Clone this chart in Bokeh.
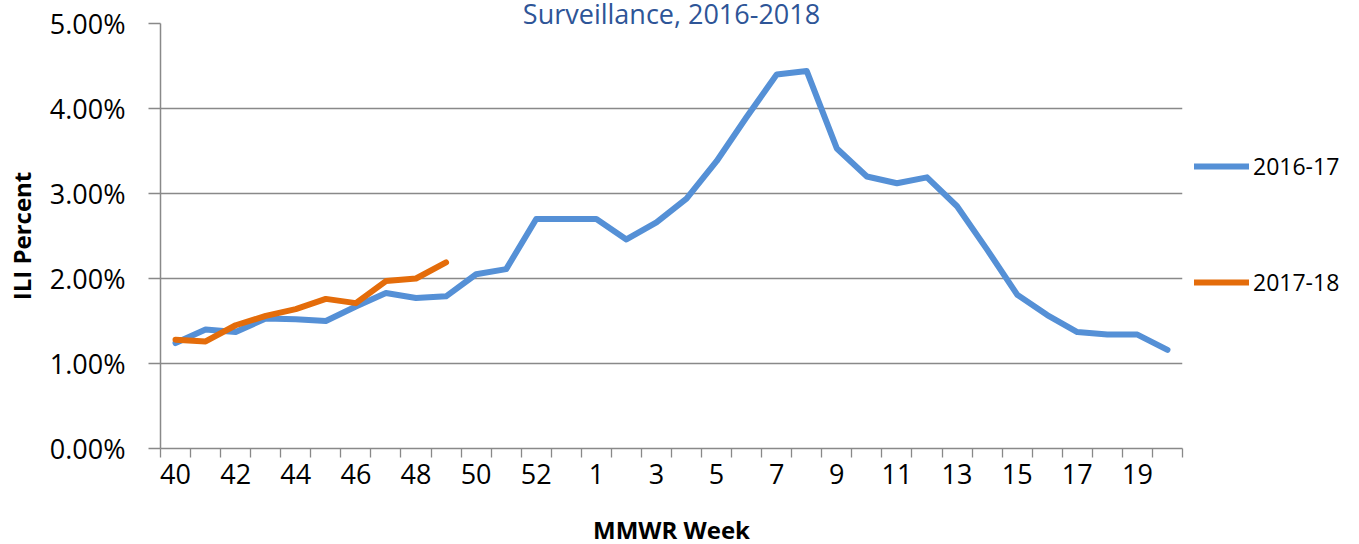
from bokeh.plotting import figure
from bokeh.models import (Range1d, FixedTicker, PrintfTickFormatter, Legend,
                          LegendItem, Title)
from bokeh.embed import file_html
from bokeh.resources import INLINE

weeks = [str(w) for w in range(40, 54)] + [str(w) for w in range(1, 21)]

season_2016_17 = [1.24, 1.40, 1.37, 1.53, 1.52, 1.50, 1.67, 1.83, 1.77, 1.79,
                  2.05, 2.11, 2.70, None, 2.70, 2.46, 2.66, 2.94, 3.38, 3.90,
                  4.40, 4.44, 3.53, 3.20, 3.12, 3.19, 2.85, 2.34, 1.81, 1.57,
                  1.37, 1.34, 1.34, 1.16]
season_2017_18 = [1.28, 1.26, 1.45, 1.56, 1.64, 1.76, 1.71, 1.97, 2.00, 2.19]

series_names = ["2016-17", "2017-18"]
colors = ["#5590D6", "#E46C0A"]
y_ticks = [0, 1, 2, 3, 4, 5]
title_text = "Surveillance, 2016-2018"

FONT = "Open Sans"
GRAY = "#898989"

p = figure(frame_width=1022, frame_height=425, output_backend="svg", toolbar_location=None,
           x_range=Range1d(0, len(weeks)), y_range=Range1d(0, 5),
           min_border_left=160, min_border_right=177,
           min_border_top=22, min_border_bottom=97)
p.outline_line_color = None
p.xgrid.visible = False
p.ygrid.grid_line_color = GRAY
p.ygrid.grid_line_width = 1.5

# x axis: labels at category centres, ticks at category boundaries
centres = [i + 0.5 for i in range(0, len(weeks), 2)]
p.xaxis.ticker = FixedTicker(ticks=centres, minor_ticks=list(range(len(weeks) + 1)))
p.xaxis.major_label_overrides = {c: weeks[int(c - 0.5)] for c in centres}
p.xaxis.major_tick_out = 0
p.xaxis.major_tick_in = 0
p.xaxis.minor_tick_out = 9
p.xaxis.minor_tick_in = 0
p.xaxis.minor_tick_line_color = GRAY
p.xaxis.minor_tick_line_width = 1.3
p.xaxis.axis_line_color = GRAY
p.xaxis.axis_line_width = 1.5
p.xaxis.major_label_text_font = FONT
p.xaxis.major_label_text_font_size = "27px"
p.xaxis.major_label_text_color = "#000000"
p.xaxis.major_label_standoff = 6
p.xaxis.axis_label = "MMWR Week"
p.xaxis.axis_label_text_font = FONT
p.xaxis.axis_label_text_font_style = "bold"
p.xaxis.axis_label_text_font_size = "24px"
p.xaxis.axis_label_text_color = "#000000"
p.xaxis.axis_label_standoff = 26

# y axis
p.yaxis.ticker = FixedTicker(ticks=y_ticks)
p.yaxis.formatter = PrintfTickFormatter(format="%.2f%%")
p.yaxis.major_tick_out = 12
p.yaxis.major_tick_in = 0
p.yaxis.minor_tick_line_color = None
p.yaxis.major_tick_line_color = GRAY
p.yaxis.major_tick_line_width = 1.3
p.yaxis.axis_line_color = GRAY
p.yaxis.axis_line_width = 1.5
p.yaxis.major_label_text_font = FONT
p.yaxis.major_label_text_font_size = "27px"
p.yaxis.major_label_text_color = "#000000"
p.yaxis.major_label_standoff = 23
p.yaxis.axis_label = "ILI Percent"
p.yaxis.axis_label_text_font = FONT
p.yaxis.axis_label_text_font_style = "bold"
p.yaxis.axis_label_text_font_size = "24px"
p.yaxis.axis_label_text_color = "#000000"
p.yaxis.axis_label_standoff = 9

renderers = []
for name, vals, col in zip(series_names, [season_2016_17, season_2017_18], colors):
    xs = [i + 0.5 for i, v in enumerate(vals) if v is not None]
    ys = [v for v in vals if v is not None]
    r = p.line(xs, ys, line_color=col, line_width=6,
               line_join="round", line_cap="round")
    renderers.append(r)

legend = Legend(items=[LegendItem(label=n, renderers=[r]) for n, r in zip(series_names, renderers)],
                location=(12, 150), orientation="vertical")
legend.background_fill_alpha = 0
legend.border_line_color = None
legend.padding = 0
legend.margin = 0
legend.spacing = 84
legend.glyph_width = 55
legend.glyph_height = 28
legend.label_standoff = 4
legend.label_text_font = FONT
legend.label_text_font_size = "23px"
legend.label_text_color = "#000000"
p.add_layout(legend, "right")

title = Title(text=title_text, align="center", vertical_align="bottom",
              standoff=-16, offset=10, text_font=FONT, text_font_size="27px",
              text_font_style="normal", text_color="#2E5597")
p.add_layout(title, "above")

open("out.html", "w").write(file_html(p, INLINE))
